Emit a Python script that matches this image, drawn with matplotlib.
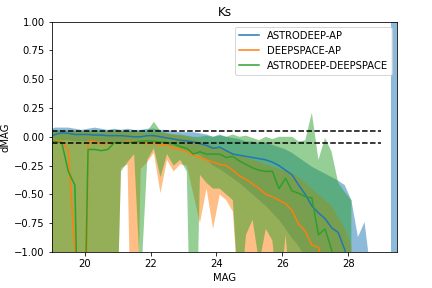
import numpy as np
import matplotlib
matplotlib.use('Agg')
import matplotlib.pyplot as plt

nan = np.nan

# bin centres (MAG)
mag = [18.9, 19.1, 19.3, 19.5, 19.7, 19.9, 20.1, 20.3, 20.5, 20.7, 20.9,
       21.1, 21.3, 21.5, 21.7, 21.9, 22.1, 22.3, 22.5, 22.7, 22.9,
       23.1, 23.3, 23.5, 23.7, 23.9, 24.1, 24.3, 24.5, 24.7, 24.9,
       25.1, 25.3, 25.5, 25.7, 25.9, 26.1, 26.3, 26.5, 26.7, 26.9,
       27.1, 27.3, 27.5, 27.7, 27.9, 28.1, 28.3, 28.5, 28.7, 28.9,
       29.1, 29.3, 29.5]

# ASTRODEEP-AP
ad_ap_med = [-0.01, 0.02, 0.035, 0.03, 0.02, 0.02, 0.02, 0.015, 0.015, 0.01, 0.01,
             0.01, 0.005, 0.0, 0.0, 0.01, 0.01, 0.0, -0.01, -0.02, -0.03,
             -0.035, -0.045, -0.06, -0.075, -0.10, -0.09, -0.12, -0.15, -0.16, -0.17,
             -0.18, -0.19, -0.20, -0.22, -0.25, -0.29, -0.33, -0.42, -0.50, -0.60,
             -0.66, -0.71, -0.79, -0.83, -0.98, -1.3, -1.6, -1.9, -2.2, nan,
             nan, -2.5, -2.5]
ad_ap_hi = [0.06, 0.08, 0.08, 0.08, 0.07, 0.06, 0.07, 0.08, 0.07, 0.06, 0.07,
            0.06, 0.07, 0.06, 0.06, 0.07, 0.07, 0.06, 0.06, 0.05, 0.04,
            0.04, 0.04, 0.03, 0.02, 0.0, 0.02, 0.0, -0.01, -0.02, -0.04,
            -0.04, -0.06, -0.05, -0.07, -0.09, -0.11, -0.14, -0.18, -0.22, -0.26,
            -0.29, -0.32, -0.35, -0.38, -0.42, -0.55, -0.87, -0.74, -1.2, nan,
            nan, 3.0, 3.0]
ad_ap_lo = [-0.05, -0.04, -0.03, -0.03, -0.04, -0.04, -0.04, -0.05, -0.04, -0.05, -0.05,
            -0.05, -0.05, -0.06, -0.06, -0.05, -0.05, -0.06, -0.07, -0.08, -0.10,
            -0.12, -0.14, -0.16, -0.20, -0.25, -0.28, -0.32, -0.36, -0.40, -0.45,
            -0.50, -0.55, -0.60, -0.66, -0.72, -0.80, -0.88, -0.95, -1.05, -1.15,
            -1.3, -1.4, -1.5, -1.6, -1.8, -2.0, -2.2, -2.4, -2.6, nan,
            nan, -3.0, -3.0]

# DEEPSPACE-AP
ds_ap_med = [-0.04, -0.03, -0.04, -0.12, -1.0, -6.0, -0.04, -0.04, -0.06, -0.06, -0.05,
             -0.05, -0.04, -0.04, -0.05, -0.06, -0.055, -0.07, -0.07, -0.10, -0.11,
             -0.13, -0.16, -0.18, -0.20, -0.22, -0.24, -0.25, -0.29, -0.34, -0.37,
             -0.41, -0.45, -0.50, -0.52, -0.55, -0.58, -0.64, -0.76, -0.82, -0.94,
             -0.96, -1.2, -1.4, -1.6, -1.8, -2.0, nan, nan, nan, nan,
             nan, nan, nan]
ds_ap_hi = [0.04, 0.04, 0.05, 0.04, 0.05, 0.04, 0.05, 0.04, 0.03, 0.04, 0.04,
            0.05, 0.04, 0.04, 0.03, 0.03, 0.04, 0.03, 0.03, 0.02, 0.01,
            0.0, -0.02, -0.04, -0.06, -0.08, -0.10, -0.12, -0.14, -0.16, -0.18,
            -0.20, -0.22, -0.24, -0.26, -0.28, -0.30, -0.32, -0.35, -0.40, -0.45,
            -0.50, -0.55, -0.60, -0.70, -0.80, -0.95, nan, nan, nan, nan,
            nan, nan, nan]
ds_ap_lo = [-3.0, -3.0, -3.0, -3.0, -3.0, -3.0, -3.0, -3.0, -3.0, -3.0, -2.5,
            -0.27, -0.24, -3.0, -0.28, -0.22, -0.14, -0.49, -0.20, -0.30, -0.24,
            -0.25, -0.50, -0.75, -0.45, -0.80, -0.50, -0.55, -0.65, -1.5, -2.0,
            -2.0, -2.0, -2.0, -2.0, -2.0, -2.0, -2.0, -2.0, -2.0, -2.0,
            -2.0, -2.2, -2.2, -2.3, -2.4, -2.5, nan, nan, nan, nan,
            nan, nan, nan]

# ASTRODEEP-DEEPSPACE
ad_ds_med = [-0.04, -0.04, -0.05, -0.30, -0.42, -3.15, -0.11, -0.11, -0.12, -0.11, -0.05,
             -0.05, -0.05, -0.045, -0.04, -0.035, -0.04, -0.045, -0.05, -0.06, -0.085,
             -0.10, -0.15, -0.13, -0.15, -0.15, -0.15, -0.18, -0.17, -0.21, -0.24,
             -0.27, -0.29, -0.30, -0.30, -0.45, -0.36, -0.47, -0.49, -0.52, -0.53,
             -0.85, -0.80, -0.98, -1.3, -1.6, -1.9, nan, nan, nan, nan,
             nan, nan, nan]
ad_ds_hi = [0.05, 0.05, 0.06, 0.05, 0.05, 0.05, 0.05, 0.06, 0.05, 0.05, 0.06,
            0.05, 0.05, 0.05, 0.05, 0.05, 0.13, 0.05, 0.03, 0.02, 0.02,
            0.01, 0.0, 0.0, 0.01, 0.0, 0.01, 0.0, 0.02, 0.0, 0.01,
            -0.01, -0.03, 0.0, -0.02, 0.0, 0.0, 0.0, -0.04, -0.03, 0.21,
            -0.20, -0.01, -0.13, -0.40, -0.48, -0.55, nan, nan, nan, nan,
            nan, nan, nan]
ad_ds_lo = [-3.0, -3.0, -3.0, -3.0, -3.0, -3.0, -3.0, -3.0, -3.0, -3.0, -2.5,
            -0.30, -0.22, -0.15, -1.3, -0.20, -0.10, -0.35, -0.15, -0.25, -0.20,
            -0.30, -3.0, -0.33, -0.40, -0.45, -0.45, -0.50, -0.55, -1.5, -0.85,
            -0.72, -1.1, -0.80, -0.90, -1.5, -0.85, -1.5, -2.0, -2.0, -2.0,
            -2.0, -2.0, -2.0, -2.0, -2.0, -2.0, nan, nan, nan, nan,
            nan, nan, nan]

fig = plt.figure(figsize=(6, 4), dpi=72)
ax = fig.add_axes([0.12, 0.125, 0.8, 0.8])

ax.plot(mag, ad_ap_med, label='ASTRODEEP-AP')
ax.fill_between(mag, ad_ap_lo, ad_ap_hi, alpha=0.5)
ax.plot(mag, ds_ap_med, label='DEEPSPACE-AP')
ax.fill_between(mag, ds_ap_lo, ds_ap_hi, alpha=0.5)
ax.plot(mag, ad_ds_med, label='ASTRODEEP-DEEPSPACE')
ax.fill_between(mag, ad_ds_lo, ad_ds_hi, alpha=0.5)

ax.plot([19, 29], [0.05, 0.05], 'k--')
ax.plot([19, 29], [-0.05, -0.05], 'k--')

ax.set_xlim(19, 29.5)
ax.set_ylim(-1, 1)
ax.set_title('Ks')
ax.set_xlabel('MAG')
ax.set_ylabel('dMAG')
ax.legend(loc='upper right')

fig.savefig('out.png', dpi=72)
